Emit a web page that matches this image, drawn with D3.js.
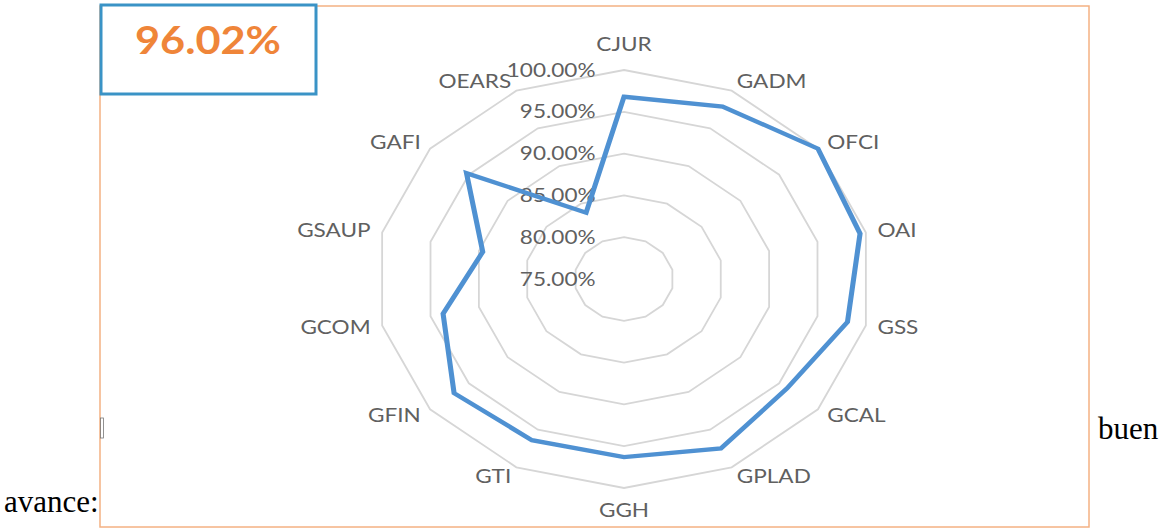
<!DOCTYPE html>
<html>
<head>
<meta charset="utf-8">
<script src="https://cdn.jsdelivr.net/npm/d3@7"></script>
<style>
  body { margin: 0; background: #fff; }
  svg { display: block; }
  .axis text { font-family: Lato, "Open Sans", sans-serif; font-size: 19px; fill: #606060; }
  .cat { font-family: Lato, "Open Sans", sans-serif; font-size: 19px; fill: #606060; }
  .doc { font-family: "Liberation Serif", "Times New Roman", serif; font-size: 31px; fill: #000; }
</style>
</head>
<body>
<div id="chart"></div>
<script>
const categories = ["CJUR", "GADM", "OFCI", "OAI", "GSS", "GCAL", "GPLAD", "GGH", "GTI", "GFIN", "GCOM", "GSAUP", "GAFI", "OEARS"];
const values = [96.8, 97.9, 100.0, 99.4, 98.1, 96.0, 97.5, 96.3, 96.4, 96.9, 93.7, 89.6, 95.3, 83.8];
const tickValues = [75, 80, 85, 90, 95, 100];
const totalLabel = "96.02%";

const width = 1169, height = 529;
const cx = 624, cy = 279;
const radius = 209;
const stretchX = 1.187; // the original picture is wider than tall

const svg = d3.select("#chart").append("svg").attr("width", width).attr("height", height);

// frame of the pasted image
svg.append("rect")
  .attr("x", 100).attr("y", 6).attr("width", 989).attr("height", 521)
  .attr("fill", "none").attr("stroke", "#f4b183").attr("stroke-width", 1.5);

const rScale = d3.scaleLinear().domain([75, 100]).range([0, radius]);
const aScale = d3.scaleLinear().domain([0, categories.length]).range([0, 2 * Math.PI]);

const chart = svg.append("g").attr("transform", "translate(" + [cx, cy] + ") scale(" + stretchX + ",1)");

// grid rings
const ring = d3.lineRadial()
  .angle((d, i) => aScale(i))
  .radius(d => rScale(d))
  .curve(d3.curveLinearClosed);

chart.append("g").attr("class", "rings")
  .selectAll("path")
  .data(tickValues.filter(t => t > 75))
  .enter().append("path")
  .attr("d", t => ring(categories.map(() => t)))
  .attr("fill", "none")
  .attr("stroke", "#d6d6d6")
  .attr("stroke-width", 1.8)
  .attr("vector-effect", "non-scaling-stroke");

// value axis labels
const yAxisScale = d3.scaleLinear().domain([75, 100]).range([0, -radius]);
const yAxis = d3.axisLeft(yAxisScale)
  .tickValues(tickValues)
  .tickSize(0)
  .tickPadding(24)
  .tickFormat(d => d3.format(".2f")(d) + "%");

chart.append("g").attr("class", "axis").call(yAxis)
  .call(g => g.select(".domain").remove());

// series line
const line = d3.lineRadial()
  .angle((d, i) => aScale(i))
  .radius(d => rScale(d))
  .curve(d3.curveLinearClosed);

chart.append("path")
  .datum(values)
  .attr("d", line)
  .attr("fill", "none")
  .attr("stroke", "#4f91d2")
  .attr("stroke-width", 4.3)
  .attr("stroke-linejoin", "miter");

// category labels
chart.append("g").attr("class", "cats")
  .selectAll("text")
  .data(categories)
  .enter().append("text")
  .attr("class", "cat")
  .each(function(d, i) {
    const a = aScale(i);
    const s = Math.sin(a), c = Math.cos(a);
    const r = radius + 10;
    let x = r * s, y = -r * c;
    let anchor = "middle";
    if (s > 0.01) anchor = "start";
    else if (s < -0.01) anchor = "end";
    else y += (c > 0 ? -16 : 12);
    d3.select(this)
      .attr("x", x).attr("y", y)
      .attr("dy", "0.35em")
      .attr("text-anchor", anchor)
      .text(d);
  });

// total box
svg.append("rect")
  .attr("x", 101).attr("y", 5).attr("width", 215).attr("height", 89)
  .attr("fill", "#fff").attr("stroke", "#3a93c6").attr("stroke-width", 3);

svg.append("text")
  .attr("x", 208).attr("y", 41)
  .attr("dy", "0.35em")
  .attr("text-anchor", "middle")
  .attr("textLength", 146)
  .attr("lengthAdjust", "spacingAndGlyphs")
  .style("font-family", "Lato, 'Open Sans', sans-serif")
  .style("font-weight", "bold")
  .style("font-size", "38px")
  .style("fill", "#ef8539")
  .text(totalLabel);

// surrounding document text
svg.append("rect")
  .attr("x", 100.5).attr("y", 418).attr("width", 3).attr("height", 20)
  .attr("fill", "none").attr("stroke", "#777").attr("stroke-width", 0.8);

svg.append("text").attr("class", "doc").attr("x", 1098).attr("y", 439).text("buen");
svg.append("text").attr("class", "doc").attr("x", 4).attr("y", 512).text("avance:");
</script>
</body>
</html>
